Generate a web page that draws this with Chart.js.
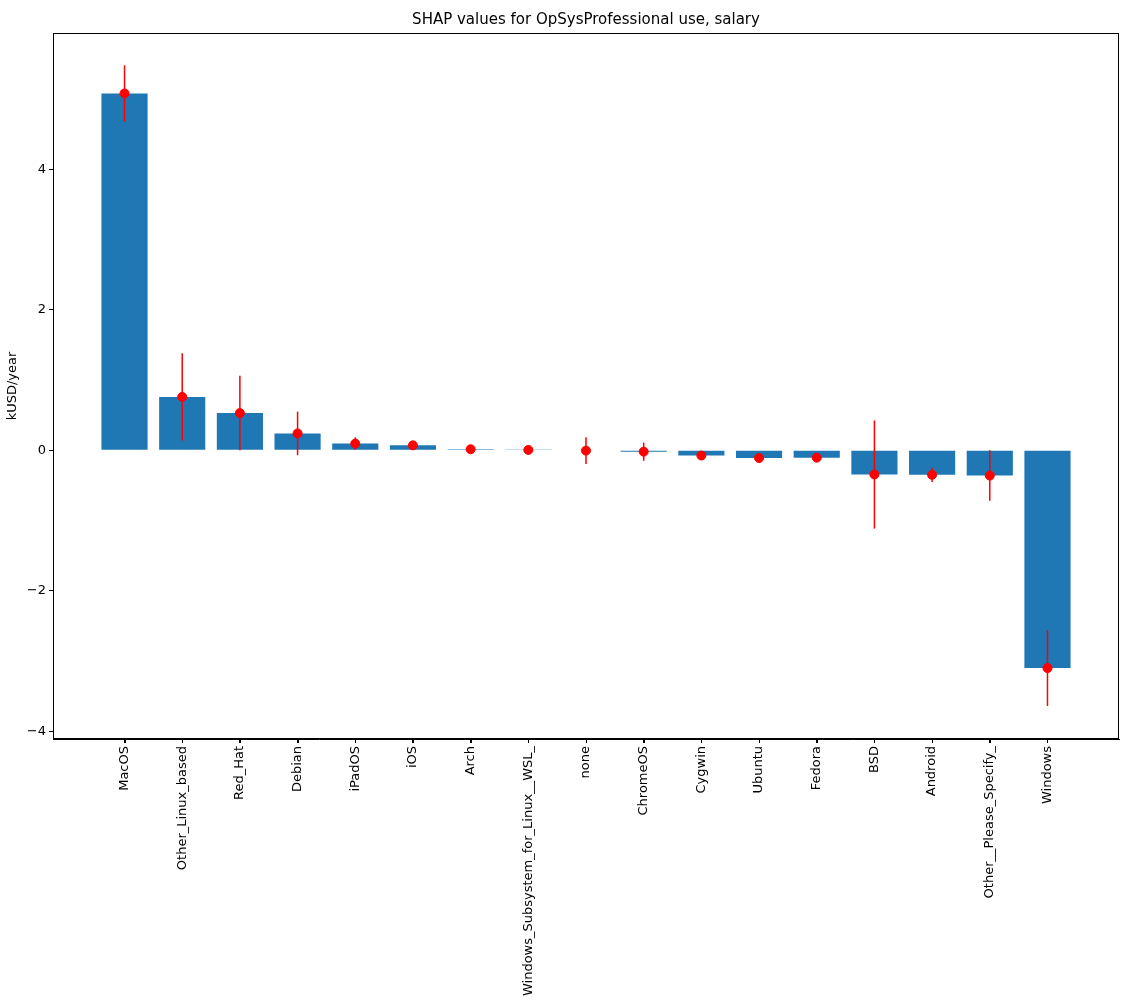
<!DOCTYPE html>
<html>
<head>
<meta charset="utf-8">
<script src="https://cdn.jsdelivr.net/npm/chart.js@4"></script>
<style>
  html, body { margin: 0; padding: 0; background: #fff; }
  #shapChart { display: block; }
</style>
</head>
<body>
<canvas id="shapChart" width="1134" height="1002"></canvas>
<script>
const chartTitle = 'SHAP values for OpSysProfessional use, salary';
const categories = [
  'MacOS', 'Other_Linux_based', 'Red_Hat', 'Debian', 'iPadOS', 'iOS', 'Arch',
  'Windows_Subsystem_for_Linux__WSL_', 'none', 'ChromeOS', 'Cygwin', 'Ubuntu',
  'Fedora', 'BSD', 'Android', 'Other__Please_Specify_', 'Windows'
];
const shapMean = [5.08, 0.76, 0.53, 0.24, 0.095, 0.07, 0.015, 0.005, -0.005, -0.02, -0.075, -0.11, -0.105, -0.345, -0.35, -0.36, -3.10];
const shapErr = [0.40, 0.62, 0.53, 0.31, 0.09, 0.03, 0.01, 0.01, 0.19, 0.13, 0.03, 0.02, 0.02, 0.77, 0.10, 0.36, 0.54];
const yTicks = [-4, -2, 0, 2, 4];

Chart.defaults.font.family = '"DejaVu Sans", sans-serif';
Chart.defaults.color = '#000';

const ctx = document.getElementById('shapChart').getContext('2d');

// error bars drawn right after the bars, before the red points
const errorBars = {
  id: 'errorBars',
  afterDatasetDraw(chart, args) {
    if (args.index !== 0) return;
    const x = chart.scales.x;
    const y = chart.scales.y;
    const c = chart.ctx;
    c.save();
    c.strokeStyle = '#ff0000';
    c.lineWidth = 1.5;
    shapMean.forEach((m, i) => {
      const px = x.getPixelForValue(i);
      c.beginPath();
      c.moveTo(px, y.getPixelForValue(m + shapErr[i]));
      c.lineTo(px, y.getPixelForValue(m - shapErr[i]));
      c.stroke();
    });
    c.restore();
  }
};

// matplotlib style box, x tick marks and title centred over the axes
const frame = {
  id: 'frame',
  afterDraw(chart) {
    const a = chart.chartArea;
    const x = chart.scales.x;
    const c = chart.ctx;
    c.save();
    c.strokeStyle = '#000';
    c.lineWidth = 1;
    c.strokeRect(a.left + 0.5, a.top + 0.5, a.right - a.left - 1, a.bottom - a.top - 1);
    categories.forEach((cat, i) => {
      const px = Math.round(x.getPixelForValue(i)) + 0.5;
      c.beginPath();
      c.moveTo(px, a.bottom);
      c.lineTo(px, a.bottom + 4);
      c.stroke();
    });
    c.fillStyle = '#000';
    c.font = '15px "DejaVu Sans", sans-serif';
    c.textAlign = 'center';
    c.textBaseline = 'middle';
    c.fillText(chartTitle, (a.left + a.right) / 2, 20);
    c.restore();
  }
};

const bg = {
  id: 'bg',
  beforeDraw(chart) {
    const c = chart.ctx;
    c.save();
    c.fillStyle = '#fff';
    c.fillRect(0, 0, chart.width, chart.height);
    c.restore();
  }
};

new Chart(ctx, {
  type: 'bar',
  data: {
    datasets: [
      {
        type: 'bar',
        data: categories.map((c, i) => ({ x: i, y: shapMean[i] })),
        backgroundColor: '#1f77b4',
        borderWidth: 0,
        barPercentage: 0.8,
        categoryPercentage: 1.0,
        order: 2
      },
      {
        type: 'scatter',
        data: categories.map((c, i) => ({ x: i, y: shapMean[i] })),
        backgroundColor: '#ff0000',
        borderColor: '#ff0000',
        pointRadius: 4.5,
        pointHoverRadius: 4.5,
        order: 1
      }
    ]
  },
  options: {
    responsive: false,
    animation: false,
    devicePixelRatio: 1,
    layout: { padding: { left: 0, right: 15, top: 33, bottom: 0 } },
    plugins: {
      legend: { display: false },
      tooltip: { enabled: false },
      title: { display: false }
    },
    scales: {
      x: {
        type: 'linear',
        min: -1.24,
        max: 17.24,
        offset: false,
        afterBuildTicks: scale => {
          scale.ticks = categories.map((c, i) => ({ value: i }));
        },
        afterFit: scale => { scale.height = 263; },
        ticks: {
          autoSkip: false,
          minRotation: 90,
          maxRotation: 90,
          padding: 3,
          font: { size: 13 },
          color: '#000',
          callback: v => categories[v]
        },
        grid: { offset: false, drawOnChartArea: false, drawTicks: true, tickLength: 4, color: '#000' },
        border: { display: true, color: '#000' }
      },
      y: {
        min: -4.11,
        max: 5.94,
        afterBuildTicks: scale => {
          scale.ticks = yTicks.map(v => ({ value: v }));
        },
        afterFit: scale => { scale.width = 53; },
        ticks: {
          padding: 3,
          font: { size: 13 },
          color: '#000',
          callback: v => (v < 0 ? '\u2212' + Math.abs(v) : String(v))
        },
        title: {
          display: true,
          text: 'kUSD/year',
          font: { size: 13 },
          color: '#000',
          padding: { top: 5, bottom: 0 }
        },
        grid: { drawOnChartArea: false, drawTicks: true, tickLength: 4, color: '#000' },
        border: { display: true, color: '#000' }
      }
    }
  },
  plugins: [bg, errorBars, frame]
});
</script>
</body>
</html>
